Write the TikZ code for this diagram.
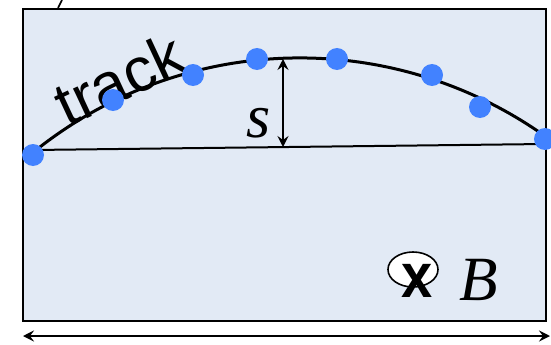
\documentclass[tikz,border=0pt]{standalone}
\usepackage{fontspec}
\setmainfont{Liberation Serif}
\newfontfamily\arialfont{Liberation Sans}
\usetikzlibrary{arrows.meta,shapes.geometric}
\definecolor{bgfill}{HTML}{E2EAF5}
\definecolor{dotblue}{HTML}{4282FF}
\begin{document}
\begin{tikzpicture}[x=1pt,y=-1pt,
  dotnode/.style={circle,fill=dotblue,inner sep=0pt,minimum size=22pt},
  dimarrow/.style={line width=1.4pt,{Stealth[length=11pt,width=11pt,inset=4pt]}-{Stealth[length=11pt,width=11pt,inset=4pt]}}]
\useasboundingbox (0,0) rectangle (551,345);
% frame
\node[draw=black,line width=2pt,fill=bgfill,minimum width=523pt,minimum height=312pt,inner sep=0pt,anchor=north west] (frame) at (22,8) {};
% fragment of label above
\draw[line width=1.6pt] (58,8) -- (62,0);
% track label (behind the arc and dots)
\node[rotate=25] (tracklabel) at (119,79) {\arialfont\fontsize{62}{62}\selectfont track};
% track arc (circle through the measured points)
\draw[line width=3pt] plot[domain=129.05:54.6,samples=80] ({299.8+423.5*cos(\x)},{481.4-423.5*sin(\x)});
% chord
\coordinate (A) at (33,150);
\coordinate (Bend) at (545,144);
\draw[line width=2pt] (A) -- (Bend);
% dots
\node[dotnode] (d1) at (33,155) {};
\node[dotnode] (d2) at (113,100) {};
\node[dotnode] (d3) at (193,75) {};
\node[dotnode] (d4) at (257,59) {};
\node[dotnode] (d5) at (337,59) {};
\node[dotnode] (d6) at (432,75) {};
\node[dotnode] (d7) at (480,107) {};
\node[dotnode] (d8) at (545,139) {};
% sagitta
\coordinate (stop) at (283,59);
\coordinate (sbot) at (283,147);
\draw[dimarrow] (stop) -- (sbot);
\node (slabel) at (259,123) {\fontsize{62}{62}\selectfont\itshape s};
% field symbol
\node[draw=black,line width=1.6pt,fill=white,ellipse,minimum width=50pt,minimum height=35pt,inner sep=0pt] (circ) at (413,269.5) {};
\node[yscale=1.12] (xmark) at (417,280.5) {\arialfont\bfseries\fontsize{56}{56}\selectfont x};
\node (Blabel) at (479,280) {\fontsize{63}{63}\selectfont\itshape B};
% width arrow
\coordinate (wl) at (23,336);
\coordinate (wr) at (550,336);
\draw[dimarrow,line width=2pt] (wl) -- (wr);
\end{tikzpicture}
\end{document}
